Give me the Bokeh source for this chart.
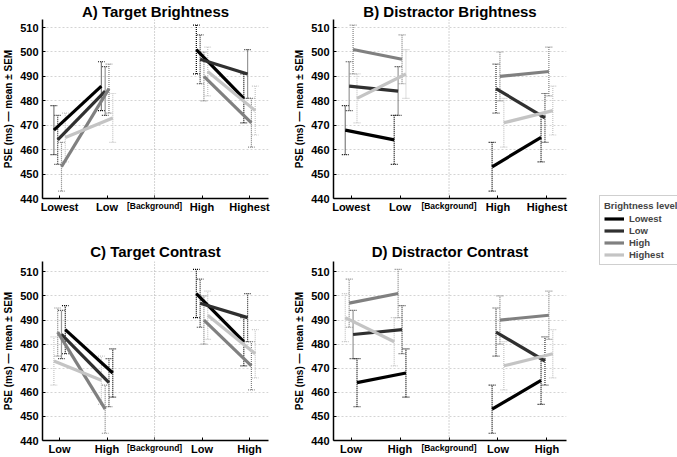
from bokeh.plotting import figure
from bokeh.models import FixedTicker, Range1d, Span, Legend, LegendItem, LinearAxis
from bokeh.layouts import row, column
from bokeh.embed import file_html
from bokeh.resources import INLINE

# ---------------- data ----------------
levels = ["Lowest", "Low", "High", "Highest"]
colors = ["#000000", "#303030", "#808080", "#c4c4c4"]

# panel A: Target Brightness  (Lowest, Low, High, Highest)
a_ticks = ["Lowest", "Low", "High", "Highest"]
a_lowest = [468, 486, 501, 481]
a_low = [464, 484, 497, 491]
a_high = [453, 485, 490, 471]
a_highest = [465, 473, 492, 476]

# panel B: Distractor Brightness
b_ticks = ["Lowest", "Low", "High", "Highest"]
b_lowest = [468, 464, 453, 465]
b_low = [486, 484, 485, 473]
b_high = [501, 497, 490, 492]
b_highest = [481, 491, 471, 476]

# panel C: Target Contrast  (Low, High, Low, High)
c_ticks = ["Low", "High", "Low", "High"]
c_lowest = [486, 468, 501, 481]
c_low = [484, 464, 497, 491]
c_high = [485, 453, 490, 471]
c_highest = [473, 465, 492, 476]

# panel D: Distractor Contrast
d_ticks = ["Low", "High", "Low", "High"]
d_lowest = [464, 468, 453, 465]
d_low = [484, 486, 485, 473]
d_high = [497, 501, 490, 492]
d_highest = [491, 481, 471, 476]

# standard errors (ms)
sem_lowest = [10, 10, 10, 10]
sem_low = [10, 10, 10, 10]
sem_high = [10, 10, 10, 10]
sem_highest = [10, 10, 10, 10]

y_ticks = [440, 450, 460, 470, 480, 490, 500, 510]
background_label = "[Background]"
y_label = "PSE (ms) \u2014 mean \u00b1 SEM"

FONT = "Liberation Sans"
positions = [0, 1, 3, 4]
background_pos = 2
base_offsets = [-0.12, -0.04, 0.04, 0.12]
sems = [sem_lowest, sem_low, sem_high, sem_highest]


def make_panel(title, ticks, series, mirror_left, w, h, bl, br, bt, bb, standoff, ytop):
    p = figure(width=w, height=h, x_range=Range1d(-0.36, 4.4), y_range=Range1d(440, ytop),
               output_backend="svg", toolbar_location=None,
               min_border_left=bl, min_border_right=br, min_border_top=bt, min_border_bottom=bb)
    p.outline_line_color = None
    p.background_fill_color = "white"
    p.border_fill_color = "white"
    p.xgrid.visible = False
    p.ygrid.grid_line_color = "#d4d4d4"
    p.ygrid.grid_line_dash = "2 2"
    p.ygrid.grid_line_width = 1

    p.title.text = title
    p.title.align = "center"
    p.title.text_font = FONT
    p.title.text_font_size = "15px"
    p.title.text_font_style = "bold"
    p.title.text_color = "black"
    p.title.standoff = standoff

    p.yaxis.ticker = FixedTicker(ticks=y_ticks)
    p.xaxis.ticker = FixedTicker(ticks=positions + [background_pos])
    overrides = {pos: lab for pos, lab in zip(positions, ticks)}
    overrides[background_pos] = " "
    p.xaxis.major_label_overrides = overrides
    for ax in (p.xaxis[0], p.yaxis[0]):
        ax.axis_line_color = "black"
        ax.axis_line_width = 1.5
        ax.major_tick_in = 3
        ax.major_tick_out = 0
        ax.major_tick_line_color = "black"
        ax.minor_tick_line_color = None
        ax.major_label_text_font = FONT
        ax.major_label_text_font_size = "11px"
        ax.major_label_text_font_style = "bold"
        ax.major_label_text_color = "black"
    p.xaxis.major_label_standoff = 2
    p.yaxis.major_label_standoff = 4
    p.yaxis.axis_label = y_label
    p.yaxis.axis_label_text_font = FONT
    p.yaxis.axis_label_text_font_size = "10px"
    p.yaxis.axis_label_text_font_style = "bold"
    p.yaxis.axis_label_standoff = 3
    p.yaxis.axis_label_text_color = "black"

    # secondary axis carrying only the smaller "[Background]" label
    bg_axis = LinearAxis(ticker=FixedTicker(ticks=[background_pos]),
                         major_label_overrides={background_pos: background_label},
                         axis_line_color=None, major_tick_line_color=None,
                         minor_tick_line_color=None, major_tick_in=0, major_tick_out=0,
                         major_label_standoff=-15,
                         major_label_text_font=FONT, major_label_text_font_size="8.5px",
                         major_label_text_font_style="bold", major_label_text_color="black")
    p.add_layout(bg_axis, "below")

    p.add_layout(Span(location=background_pos, dimension="height", line_color="#a8a8a8",
                      line_dash="1 2", line_width=1))

    for i, (vals, sem) in enumerate(zip(series, sems)):
        col = colors[i]
        offL = -base_offsets[i] if mirror_left else base_offsets[i]
        offR = base_offsets[i]
        xs = [positions[0] + offL, positions[1] + offL, positions[2] + offR, positions[3] + offR]
        lo = [v - s for v, s in zip(vals, sem)]
        hi = [v + s for v, s in zip(vals, sem)]
        p.segment(x0=xs, y0=lo, x1=xs, y1=hi, line_color=col, line_width=1.2, line_dash="1 1")
        p.segment(x0=[x - 0.07 for x in xs], y0=lo, x1=[x + 0.07 for x in xs], y1=lo,
                  line_color=col, line_width=1.2, line_dash="1 1")
        p.segment(x0=[x - 0.07 for x in xs], y0=hi, x1=[x + 0.07 for x in xs], y1=hi,
                  line_color=col, line_width=1.2, line_dash="1 1")
    for i, vals in enumerate(series):
        col = colors[i]
        offL = -base_offsets[i] if mirror_left else base_offsets[i]
        offR = base_offsets[i]
        p.line([positions[0] + offL, positions[1] + offL], vals[:2], line_color=col, line_width=3.2)
        p.line([positions[2] + offR, positions[3] + offR], vals[2:], line_color=col, line_width=3.2)
    return p


pa = make_panel("A) Target Brightness", a_ticks, [a_lowest, a_low, a_high, a_highest], False,
                290, 228, 38, 22, 16, 30, 0, 513.3)
pb = make_panel("B) Distractor Brightness", b_ticks, [b_lowest, b_low, b_high, b_highest], False,
                290, 228, 43, 14, 16, 30, 0, 513.3)
pc = make_panel("C) Target Contrast", c_ticks, [c_lowest, c_low, c_high, c_highest], True,
                290, 229, 38, 22, 33, 14, 4, 514.3)
pd = make_panel("D) Distractor Contrast", d_ticks, [d_lowest, d_low, d_high, d_highest], True,
                290, 229, 43, 14, 33, 14, 4, 514.3)

# legend figure
pl = figure(width=97, height=457, x_range=Range1d(0, 1), y_range=Range1d(0, 1),
            output_backend="svg", toolbar_location=None,
            x_axis_location=None, y_axis_location=None,
            min_border_left=0, min_border_right=0, min_border_top=0, min_border_bottom=0)
pl.outline_line_color = None
pl.xgrid.visible = False
pl.ygrid.visible = False
items = []
for lev, col in zip(levels, colors):
    r = pl.line([5, 6], [5, 6], line_color=col, line_width=3.2)
    items.append(LegendItem(label=lev, renderers=[r]))
leg = Legend(items=items, location=(19, 192), title="Brightness level",
             title_text_font=FONT, title_text_font_size="9.5px", title_text_font_style="bold",
             title_standoff=2, label_text_font=FONT, label_text_font_size="9.5px",
             label_text_font_style="bold",
             label_height=11, glyph_height=11, glyph_width=20, spacing=1, padding=4, margin=0,
             label_standoff=5, border_line_color="#a0a0a0", border_line_width=1,
             background_fill_color="white", background_fill_alpha=1.0)
pl.add_layout(leg)

layout = row(column(row(pa, pb), row(pc, pd)), pl)
open("out.html", "w").write(file_html(layout, INLINE))
